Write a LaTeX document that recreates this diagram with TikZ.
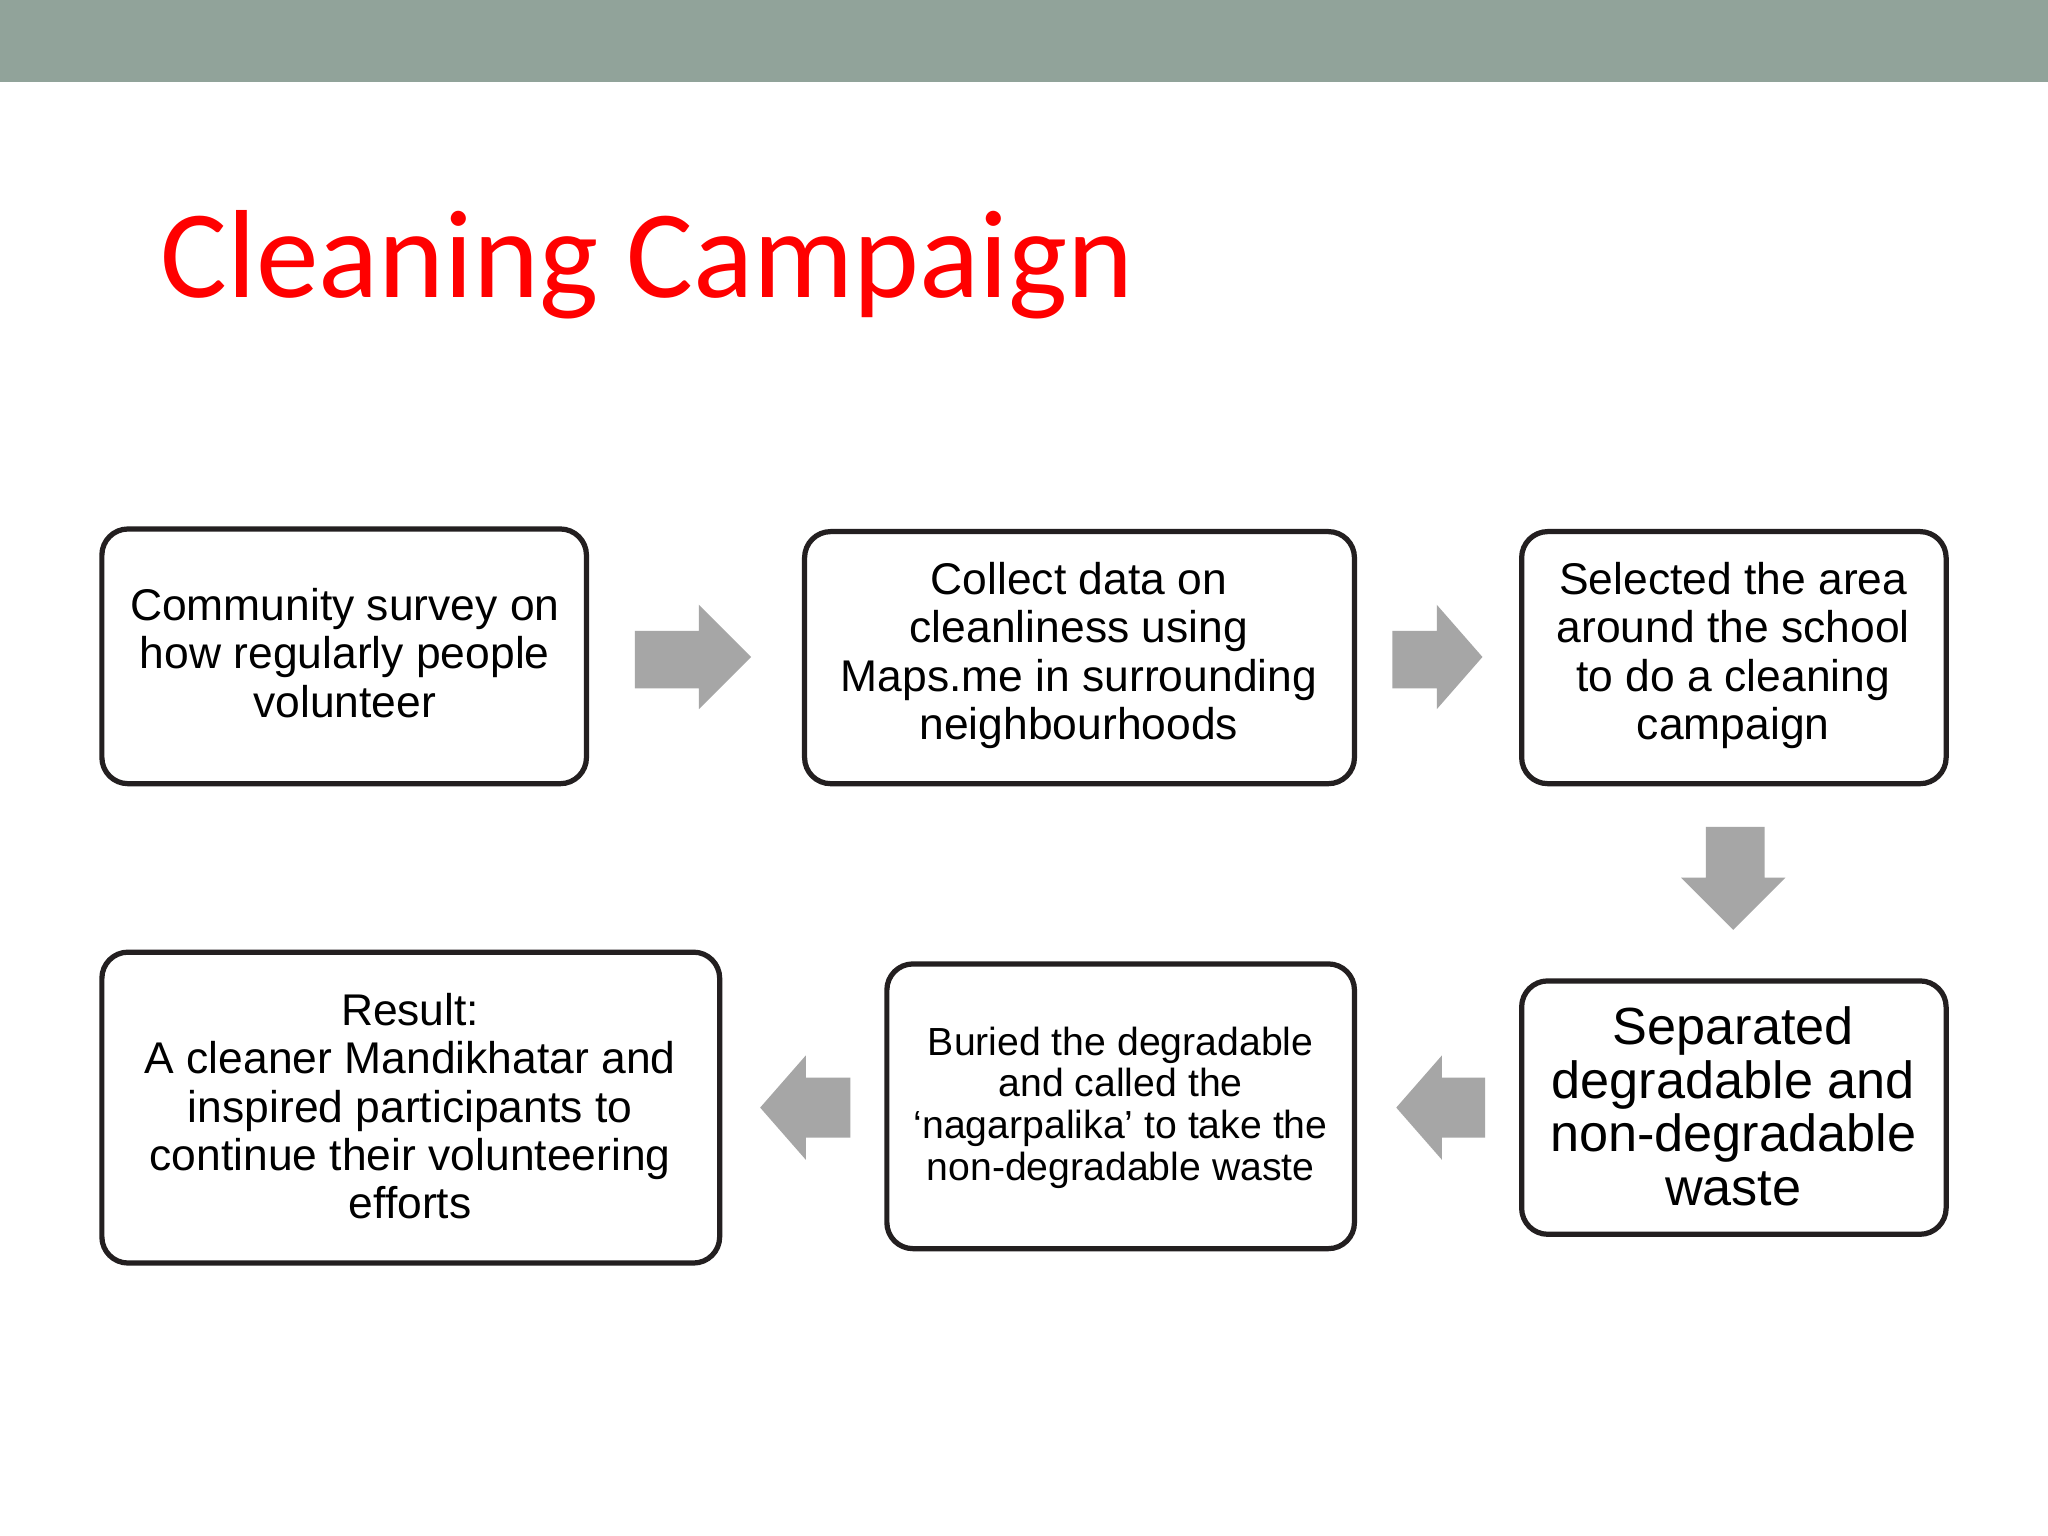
\documentclass[tikz,border=0pt]{standalone}
\usepackage{fontspec}
\setmainfont{Liberation Sans}
\newfontfamily\titlefont{Carlito}
\definecolor{band}{HTML}{91A39A}
\definecolor{arr}{HTML}{A6A6A6}
\definecolor{boxline}{HTML}{231F20}
\begin{document}
\begin{tikzpicture}[x=0.5pt,y=-0.5pt,
  stepbox/.style={draw=boxline,line width=2pt,rounded corners=10pt},
  txt/.style={align=center,font=\fontsize{17}{18.5}\selectfont,text=black},
  arrowshape/.style={fill=arr,draw=none}]
\useasboundingbox (0,0) rectangle (1568,1176);
\fill[white] (0,0) rectangle (1568,1176);
\fill[band] (0,0) rectangle (1568,63);
\node[anchor=west,text=red,font=\titlefont\fontsize{48}{50}\selectfont] (title) at (116,203) {Cleaning Campaign};
% boxes
\draw[stepbox] (78,405) rectangle (449,600);
\node[txt] (b1) at (264,500) {Community survey on\\how regularly people\\volunteer};
\draw[stepbox] (616,407) rectangle (1037,600);
\node[txt] (b2) at (826,502) {Collect data on\\cleanliness using\\Maps.me in surrounding\\neighbourhoods};
\draw[stepbox] (1165,407) rectangle (1490,600);
\node[txt] (b3) at (1327,502) {Selected the area\\around the school\\to do a cleaning\\campaign};
\draw[stepbox] (1165,751) rectangle (1490,945);
\node[txt,font=\fontsize{20}{20.5}\selectfont] (b4) at (1327,847) {Separated\\degradable and\\non-degradable\\waste};
\draw[stepbox] (679,738) rectangle (1037,956);
\node[txt,font=\fontsize{15}{16}\selectfont] (b5) at (858,848) {Buried the degradable\\and called the\\‘nagarpalika’ to take the\\non-degradable waste};
\draw[stepbox] (78,729) rectangle (551,967);
\node[txt] (b6) at (314,847) {Result:\\A cleaner Mandikhatar and\\inspired participants to\\continue their volunteering\\efforts};
% arrows
\fill[arrowshape] (486,483) -- (535,483) -- (535,463) -- (575,503) -- (535,543) -- (535,527) -- (486,527) -- cycle;
\fill[arrowshape] (1066,483) -- (1100,483) -- (1100,463) -- (1135,503) -- (1100,543) -- (1100,527) -- (1066,527) -- cycle;
\fill[arrowshape] (1306,633) -- (1351,633) -- (1351,672) -- (1367,672) -- (1327,712) -- (1287,672) -- (1306,672) -- cycle;
\fill[arrowshape] (651,825) -- (617,825) -- (617,808) -- (582,848) -- (617,888) -- (617,871) -- (651,871) -- cycle;
\fill[arrowshape] (1137,825) -- (1104,825) -- (1104,808) -- (1069,848) -- (1104,888) -- (1104,871) -- (1137,871) -- cycle;
\end{tikzpicture}
\end{document}
